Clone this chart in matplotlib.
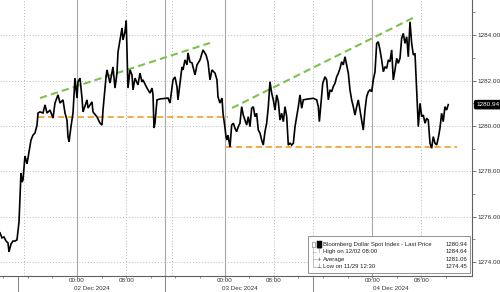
import matplotlib
matplotlib.use("Agg")
import matplotlib.pyplot as plt
from matplotlib.transforms import blended_transform_factory

# ---- data (hours relative to 02 Dec 2024 00:00, weekend gap removed) ----
hours = [-12.52, -12.20, -11.87, -11.54, -11.22, -11.06, -10.73, -10.41, -10.08, -9.76,
         -9.43, -9.11, -8.94, -8.78, -8.46, -8.13, -7.81, -7.48, -7.15, -6.83,
         -6.50, -6.34, -6.02, -5.53, -5.20, -4.88, -4.39, -3.90, -3.58, -3.09,
         -2.76, -2.28, -1.95, -1.63, -1.46, -1.30, -0.98, -0.65, -0.33, 0.00,
         0.16, 0.49, 0.81, 0.98, 1.63, 1.79, 2.44, 2.60, 3.25, 3.74,
         4.07, 4.23, 4.72, 4.88, 5.37, 5.85, 6.18, 6.50, 6.67, 6.99,
         7.32, 7.48, 7.80, 8.00, 8.29, 8.62, 8.94, 9.11, 9.43, 9.92,
         10.24, 10.57, 10.73, 11.38, 11.87, 12.20, 12.36, 12.52, 12.68, 13.01,
         13.50, 14.80, 15.12, 15.45, 15.61, 15.93, 16.26, 16.42, 16.75, 17.07,
         17.24, 17.56, 17.89, 18.05, 18.37, 18.70, 19.19, 19.51, 20.00, 20.49,
         20.98, 21.30, 21.63, 21.95, 22.44, 22.76, 22.93, 23.25, 23.58, 23.74,
         24.07, 24.23, 24.39, 24.55, 24.88, 25.15, 25.42, 25.69, 25.96, 26.23,
         26.50, 26.78, 27.04, 27.32, 27.59, 27.85, 28.13, 28.40, 28.67, 28.94,
         29.21, 29.48, 29.76, 30.03, 30.29, 30.57, 30.84, 31.11, 31.38, 31.66,
         31.92, 32.20, 32.47, 32.74, 33.01, 33.28, 33.55, 33.82, 34.10, 34.36,
         34.64, 34.91, 35.18, 35.45, 35.72, 35.99, 36.26, 36.54, 36.80, 37.35,
         38.43, 38.98, 39.24, 39.41, 39.63, 39.96, 40.33, 40.60, 40.87, 41.14,
         41.41, 41.67, 41.95, 42.23, 42.49, 42.77, 43.04, 43.30, 43.58, 43.85,
         44.12, 44.39, 44.66, 44.93, 45.20, 45.48, 45.74, 46.02, 46.29, 46.55,
         46.83, 47.10, 47.37, 47.64, 47.92, 48.18, 48.46, 48.73, 48.99, 49.27,
         49.54, 49.81, 50.08, 50.36, 50.62, 50.89, 51.17, 51.43, 51.71, 51.98,
         52.24, 52.52, 52.79, 53.06, 53.33, 53.61, 53.87, 54.15, 54.42, 54.69,
         54.96, 55.23, 55.50, 55.78, 56.05, 56.31, 56.59, 56.86, 57.12, 57.40,
         57.67, 57.93, 58.21, 58.48, 58.74, 59.02, 59.29, 59.55, 59.83, 60.10,
         60.37]
prices = [1275.29, 1275.07, 1275.11, 1274.93, 1274.85, 1274.45, 1274.80, 1274.93, 1274.93, 1274.98,
          1275.77, 1277.93, 1277.53, 1277.62, 1278.68, 1278.33, 1278.85, 1279.38, 1279.60, 1279.69,
          1280.04, 1280.57, 1280.62, 1280.57, 1280.93, 1280.57, 1280.70, 1280.35, 1281.01, 1281.37,
          1281.01, 1281.15, 1280.57, 1280.26, 1279.52, 1279.30, 1279.96, 1280.57, 1282.11, 1281.23,
          1281.94, 1282.11, 1281.23, 1280.62, 1281.15, 1280.79, 1281.06, 1280.62, 1280.40, 1280.13,
          1280.04, 1280.70, 1282.16, 1282.47, 1281.89, 1282.60, 1281.67, 1282.33, 1283.26, 1283.79,
          1284.32, 1283.79, 1284.14, 1284.64, 1281.67, 1282.47, 1282.25, 1281.59, 1282.11, 1281.81,
          1282.33, 1281.94, 1282.03, 1281.67, 1281.45, 1281.67, 1281.37, 1279.91, 1280.13, 1281.15,
          1281.19, 1281.23, 1281.01, 1281.72, 1282.03, 1282.16, 1281.72, 1281.15, 1281.89, 1282.60,
          1282.47, 1282.91, 1282.69, 1283.22, 1282.82, 1282.78, 1282.25, 1282.69, 1282.91, 1283.35,
          1283.13, 1282.82, 1282.03, 1282.47, 1282.33, 1282.03, 1281.28, 1281.01, 1281.23, 1280.57,
          1279.91, 1279.52, 1279.38, 1279.60, 1279.07, 1280.04, 1280.12, 1279.90, 1279.75, 1279.97,
          1280.12, 1280.85, 1280.48, 1280.26, 1280.04, 1280.41, 1279.97, 1280.78, 1280.85, 1280.41,
          1280.56, 1279.82, 1279.68, 1279.38, 1279.16, 1279.75, 1280.12, 1280.85, 1281.95, 1281.44,
          1281.15, 1280.70, 1281.37, 1281.07, 1280.26, 1280.56, 1280.19, 1280.85, 1280.41, 1279.16,
          1279.24, 1279.16, 1279.24, 1279.97, 1280.41, 1280.85, 1281.37, 1280.78, 1281.15, 1281.18,
          1281.22, 1281.15, 1280.85, 1280.19, 1280.85, 1281.88, 1282.17, 1282.03, 1281.15, 1281.59,
          1281.51, 1281.73, 1281.88, 1282.17, 1282.32, 1282.54, 1282.83, 1282.69, 1283.05, 1282.69,
          1282.32, 1281.59, 1281.15, 1280.85, 1280.48, 1280.85, 1281.15, 1280.70, 1280.26, 1279.82,
          1280.70, 1281.29, 1281.51, 1281.59, 1281.51, 1282.03, 1282.39, 1283.64, 1283.71, 1283.35,
          1282.91, 1282.39, 1282.61, 1282.54, 1282.91, 1282.83, 1283.35, 1282.03, 1282.47, 1282.98,
          1282.76, 1282.98, 1283.86, 1284.08, 1283.64, 1283.93, 1283.05, 1284.59, 1283.64, 1283.13,
          1283.20, 1281.59, 1279.97, 1281.00, 1280.41, 1280.48, 1280.12, 1280.34, 1280.26, 1279.24,
          1279.02, 1279.53, 1279.24, 1279.16, 1279.46, 1279.90, 1280.56, 1280.19, 1280.85, 1280.70,
          1280.94]

# trend lines (start hour, end hour, start price, end price)
green_lines = [(-6.02, 21.63, 1281.23, 1283.66), (25.20, 54.63, 1280.79, 1284.76)]
orange_lines = [(-6.34, 24.55, 1280.40, 1280.40), (24.23, 61.80, 1279.07, 1279.07)]

y_ticks = [1274, 1276, 1278, 1280, 1282, 1284]
x_ticks = [0, 8, 24, 32, 48, 56]
x_tick_labels = ["00:00", "08:00", "00:00", "08:00", "00:00", "08:00"]
date_labels = ["02 Dec 2024", "03 Dec 2024", "04 Dec 2024"]
date_centers = [2.4, 26.5, 51.0]
day_separators = [-9.6, 14.3, 38.4]
solid_grid = [0, 24, 48, 14.3]
dotted_grid = [-8.6, 8, 15.4, 32, 38.4, 56]

series_name = "Bloomberg Dollar Spot Index - Last Price"
last_price = 1280.94
high_label, high_val = "High on 12/02 08:00", 1284.64
avg_label, avg_val = "Average", 1281.06
low_label, low_val = "Low on 11/29 12:30", 1274.45

FONT = "Liberation Sans"

fig = plt.figure(figsize=(5.0, 2.92), dpi=100)
ax = fig.add_axes([0.0, (292 - 276) / 292, 472 / 500, 276 / 292])
ax.set_xlim(-12.52, 64.23)
ax.set_ylim(1273.39, 1285.55)

# grid
for yv in y_ticks:
    ax.axhline(yv, color="#b8b8b8", lw=0.7, ls=(0, (1, 2)), zorder=1)
for xv in solid_grid:
    ax.axvline(xv, color="#a8a8a8", lw=0.8, zorder=1)
for xv in dotted_grid:
    ax.axvline(xv, color="#b8b8b8", lw=0.7, ls=(0, (1, 2)), zorder=1)

# trend lines
for x0, x1, y0, y1 in green_lines:
    ax.plot([x0, x1], [y0, y1], color="#7dc24e", lw=1.5, ls=(0, (3.5, 2)), zorder=3)
for x0, x1, y0, y1 in orange_lines:
    ax.plot([x0, x1], [y0, y1], color="#f2a73a", lw=1.3, ls=(0, (3.5, 2)), zorder=3)

# price
ax.plot(hours, prices, color="black", lw=1.2, zorder=4, solid_joinstyle="miter")

# spines
for s in ["top", "left"]:
    ax.spines[s].set_visible(False)
ax.spines["right"].set_color("#606060")
ax.spines["bottom"].set_color("#606060")
ax.spines["right"].set_linewidth(0.8)
ax.spines["bottom"].set_linewidth(0.8)

# y axis on right
ax.yaxis.tick_right()
ax.set_yticks(y_ticks)
ax.set_yticklabels([f"{v:.2f}" for v in y_ticks], fontsize=4.6, family=FONT, color="#333333")
ax.set_yticks([1275, 1277, 1279, 1281, 1283, 1285], minor=True)
ax.tick_params(axis="y", which="major", length=3, width=0.6, pad=1, color="#606060")
ax.tick_params(axis="y", which="minor", length=2, width=0.5, color="#606060")

# x axis
ax.set_xticks(x_ticks)
ax.set_xticklabels(x_tick_labels, fontsize=4.5, family=FONT, color="#333333")
ax.set_xticks([v for v in range(-12, 64, 4) if v not in x_ticks], minor=True)
ax.tick_params(axis="x", which="major", length=1.5, width=0.5, pad=0.2, color="#606060")
ax.tick_params(axis="x", which="minor", length=1.5, width=0.5, color="#606060")

trans = blended_transform_factory(ax.transData, ax.transAxes)
for xv in day_separators:
    ax.plot([xv, xv], [0, -0.07], color="#707070", lw=0.6, transform=trans, clip_on=False)
for xc, lab in zip(date_centers, date_labels):
    ax.text(xc, -0.0445, lab, transform=trans, ha="center", va="center", fontsize=4.5,
            family=FONT, color="#333333")

# last price tag
ax.annotate(f"{last_price:.2f}", xy=(1.0, last_price), xycoords=("axes fraction", "data"),
            xytext=(3, 0), textcoords="offset points", ha="left", va="center",
            fontsize=4.6, family=FONT, color="white",
            bbox=dict(boxstyle="round,pad=0.25,rounding_size=0.2", fc="black", ec="black"))

# legend box
lx0, lx1 = 308 / 472, 470 / 472
ly0, ly1 = (276 - 273) / 276, (276 - 236) / 276
ax.add_patch(plt.Rectangle((lx0, ly0), lx1 - lx0, ly1 - ly0, transform=ax.transAxes,
                           fc="white", ec="#808080", lw=0.6, zorder=6))
rows_y = [(276 - 244.3) / 276, (276 - 251.8) / 276, (276 - 259.3) / 276, (276 - 266.7) / 276]
tx = 323 / 472
vx = 467 / 472
labels = [series_name, high_label, avg_label, low_label]
values = [last_price, high_val, avg_val, low_val]
for yy, lab, val in zip(rows_y, labels, values):
    ax.text(tx, yy, lab, transform=ax.transAxes, fontsize=4.3, family=FONT,
            va="center", ha="left", color="#222222", zorder=7)
    ax.text(vx, yy, f"{val:.2f}", transform=ax.transAxes, fontsize=4.3, family=FONT,
            va="center", ha="right", color="#222222", zorder=7)
# icons
ax.add_patch(plt.Rectangle((316.5 / 472, rows_y[0] - 0.012), 5 / 472, 0.024,
                           transform=ax.transAxes, fc="black", ec="black", lw=0.3, zorder=7))
ax.add_patch(plt.Rectangle((311.5 / 472, rows_y[0] - 0.008), 3 / 472, 0.016,
                           transform=ax.transAxes, fc="white", ec="#666666", lw=0.4, zorder=7))
ax.plot([313 / 472, 313 / 472], [rows_y[0] - 0.01, rows_y[3]], transform=ax.transAxes,
        color="#999999", lw=0.4, zorder=7)
for yy in rows_y[1:]:
    ax.plot([313 / 472, 316 / 472], [yy, yy], transform=ax.transAxes,
            color="#999999", lw=0.4, zorder=7)
for yy, sym in zip(rows_y[1:], ["\u22a4", "+", "\u22a5"]):
    ax.text(318.5 / 472, yy, sym, transform=ax.transAxes, fontsize=4.0,
            family="DejaVu Sans", va="center", ha="center", color="#444444", zorder=7)

fig.savefig("out.png", dpi=100)
